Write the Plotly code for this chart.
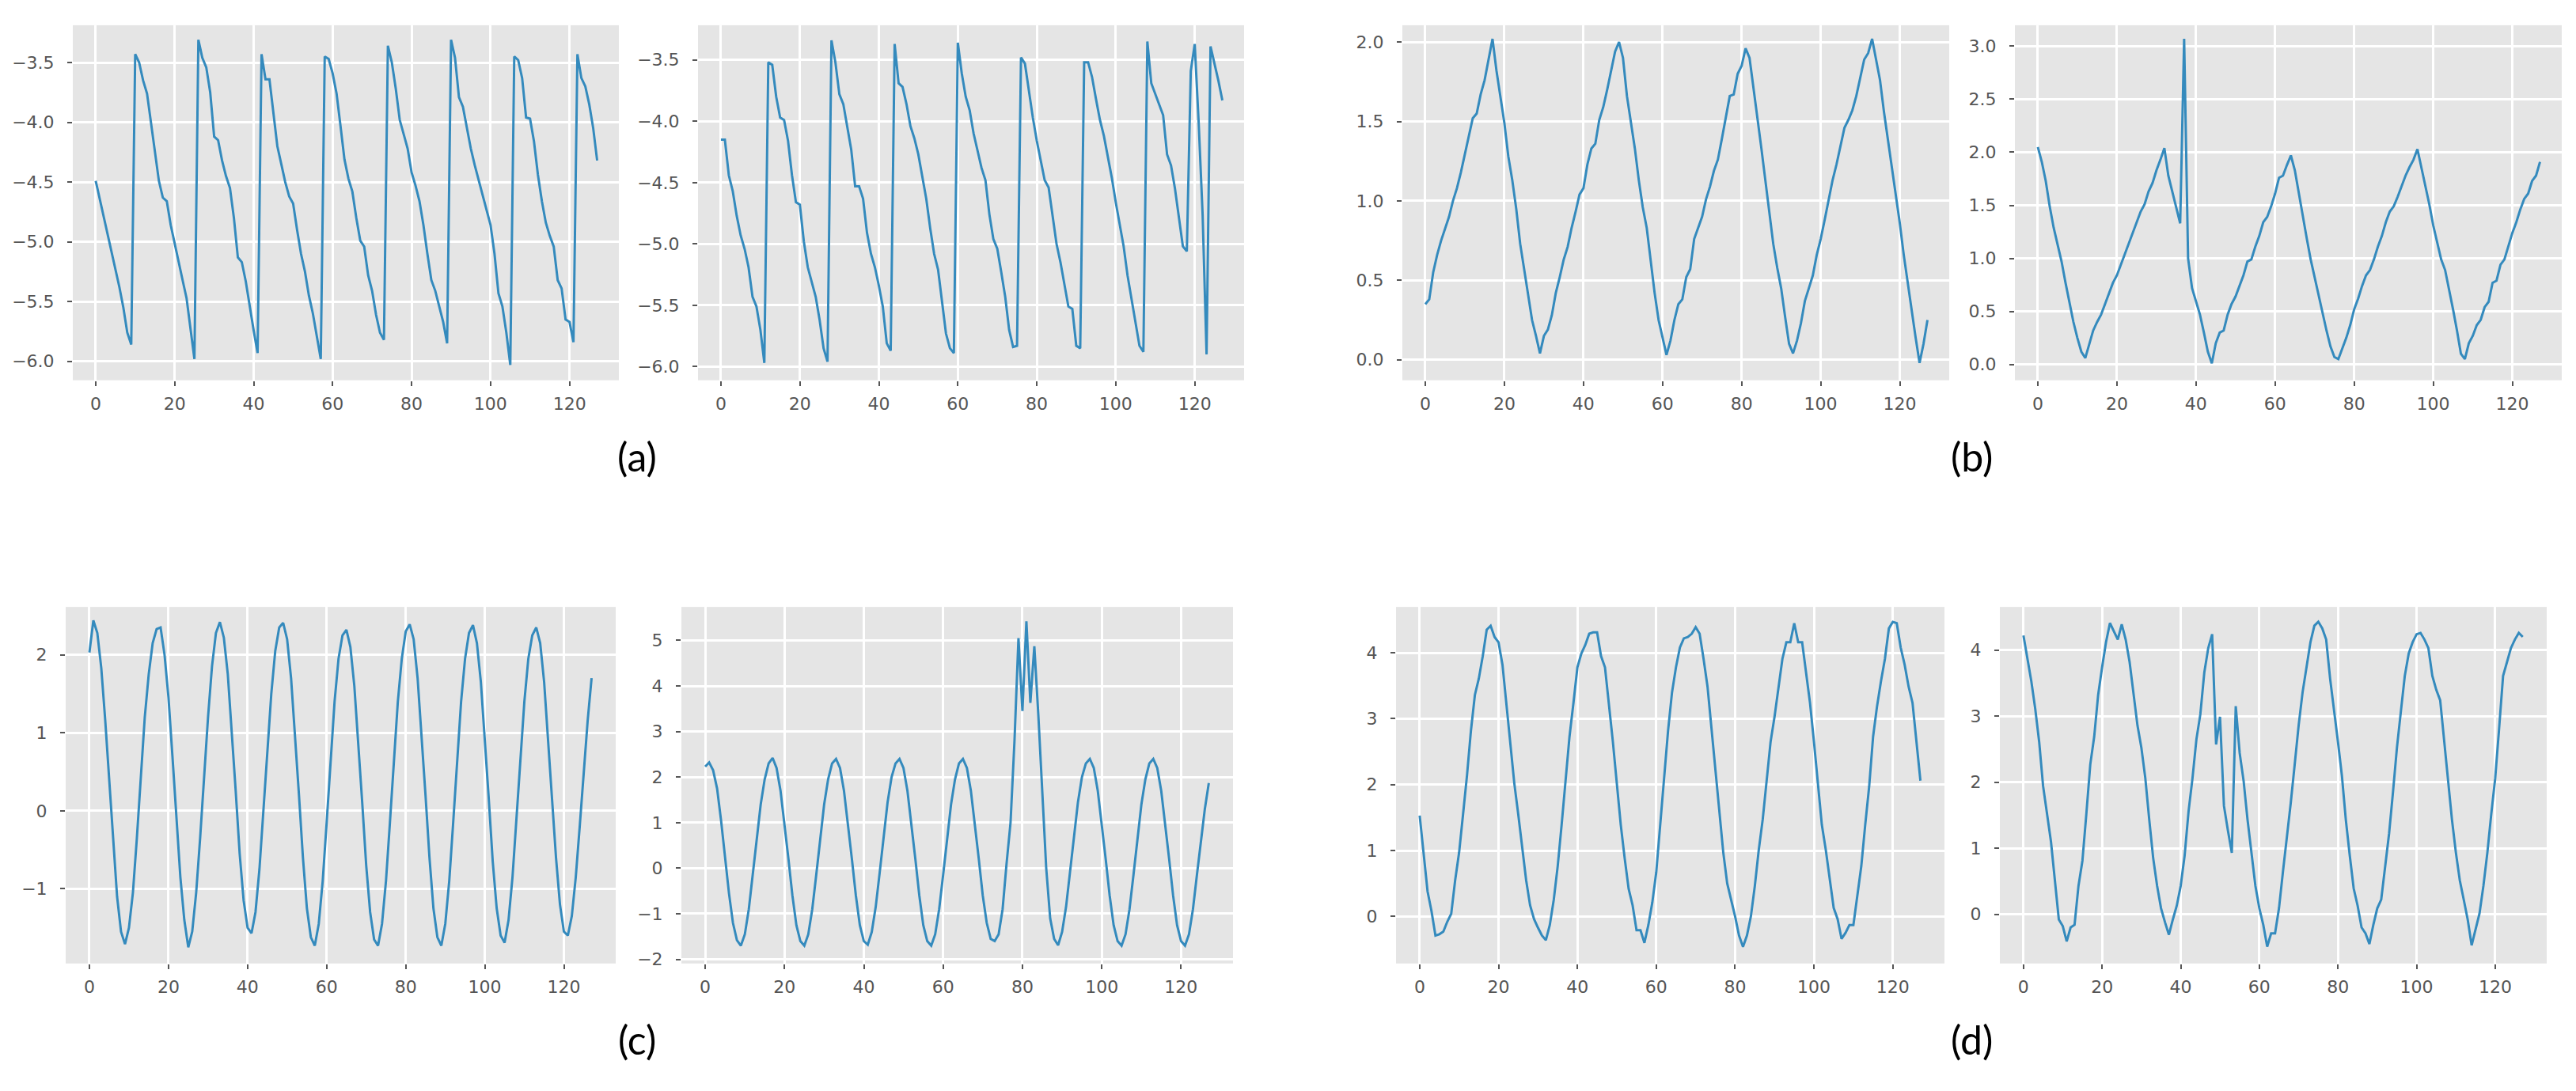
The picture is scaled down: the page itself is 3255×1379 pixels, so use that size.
import plotly.graph_objects as go

# sample index shared by all eight series
x = list(range(128))

# (a) sawtooth signals
a_left = [
    -4.49, -4.64, -4.79, -4.94, -5.08, -5.22, -5.38, -5.55, -5.76, -5.86,
    -3.43, -3.50, -3.65, -3.76, -4.01, -4.27, -4.49, -4.63, -4.66, -4.86, -5.02, -5.17, -5.32, -5.47, -5.72, -5.98,
    -3.31, -3.46, -3.54, -3.75, -4.12, -4.15, -4.32, -4.45, -4.55, -4.80, -5.13, -5.17, -5.33, -5.55, -5.74, -5.93,
    -3.43, -3.64, -3.64, -3.92, -4.20, -4.35, -4.50, -4.62, -4.68, -4.90, -5.10, -5.25, -5.45, -5.60, -5.78, -5.98,
    -3.45, -3.47, -3.59, -3.76, -4.03, -4.31, -4.47, -4.58, -4.80, -4.99, -5.04, -5.28, -5.41, -5.61, -5.76, -5.82,
    -3.36, -3.50, -3.72, -3.98, -4.10, -4.22, -4.42, -4.53, -4.66, -4.86, -5.10, -5.32, -5.41, -5.54, -5.67, -5.85,
    -3.31, -3.46, -3.79, -3.87, -4.05, -4.22, -4.36, -4.49, -4.60, -4.73, -4.86, -5.10, -5.43, -5.54, -5.76, -6.03,
    -3.45, -3.48, -3.63, -3.96, -3.97, -4.16, -4.44, -4.66, -4.84, -4.95, -5.04, -5.32, -5.39, -5.65, -5.67, -5.84,
    -3.43, -3.63, -3.70, -3.85, -4.05, -4.32,
]
a_right = [
    -4.15, -4.15, -4.44, -4.57, -4.77, -4.93, -5.04, -5.19, -5.43, -5.51, -5.70, -5.97,
    -3.52, -3.54, -3.80, -3.97, -3.99, -4.16, -4.44, -4.66, -4.68, -4.98, -5.19, -5.32, -5.43, -5.62, -5.85, -5.96,
    -3.34, -3.52, -3.78, -3.86, -4.06, -4.23, -4.53, -4.53, -4.63, -4.91, -5.08, -5.19, -5.34, -5.51, -5.81, -5.87,
    -3.37, -3.69, -3.72, -3.86, -4.04, -4.14, -4.27, -4.46, -4.63, -4.87, -5.08, -5.21, -5.47, -5.73, -5.85, -5.89,
    -3.36, -3.61, -3.80, -3.91, -4.10, -4.25, -4.38, -4.48, -4.76, -4.96, -5.04, -5.23, -5.43, -5.70, -5.84, -5.83,
    -3.48, -3.53, -3.76, -3.97, -4.16, -4.31, -4.48, -4.54, -4.78, -5.00, -5.15, -5.34, -5.51, -5.53, -5.83, -5.85,
    -3.52, -3.52, -3.64, -3.82, -3.99, -4.12, -4.29, -4.46, -4.66, -4.85, -5.02, -5.26, -5.45, -5.62, -5.83, -5.88,
    -3.35, -3.69, -3.78, -3.86, -3.95, -4.27, -4.36, -4.55, -4.78, -5.02, -5.06, -3.59, -3.37, -4.01, -4.76, -5.90,
    -3.39, -3.52, -3.67, -3.83,
]

# (b) triangle signals
b_left = [
    0.35, 0.38, 0.55, 0.66, 0.75, 0.83, 0.90, 1.00, 1.08, 1.18,
    1.29, 1.41, 1.52, 1.55, 1.67, 1.76, 1.89, 2.02, 1.82, 1.66,
    1.49, 1.28, 1.13, 0.95, 0.73, 0.57, 0.40, 0.25, 0.15, 0.04,
    0.15, 0.19, 0.28, 0.42, 0.52, 0.63, 0.71, 0.83, 0.93, 1.04,
    1.08, 1.23, 1.33, 1.36, 1.51, 1.59, 1.70, 1.82, 1.94, 2.00,
    1.90, 1.66, 1.49, 1.33, 1.13, 0.96, 0.83, 0.63, 0.42, 0.25,
    0.14, 0.03, 0.12, 0.25, 0.35, 0.38, 0.52, 0.57, 0.76, 0.83,
    0.90, 1.01, 1.09, 1.19, 1.26, 1.39, 1.52, 1.66, 1.67, 1.80,
    1.85, 1.96, 1.90, 1.72, 1.52, 1.33, 1.13, 0.96, 0.73, 0.58,
    0.45, 0.27, 0.10, 0.04, 0.12, 0.23, 0.37, 0.45, 0.53, 0.66,
    0.76, 0.88, 1.01, 1.13, 1.23, 1.34, 1.46, 1.51, 1.57, 1.66,
    1.77, 1.89, 1.93, 2.02, 1.89, 1.76, 1.56, 1.39, 1.21, 1.03,
    0.86, 0.66, 0.48, 0.32, 0.14, -0.02, 0.10, 0.25,
]
b_right = [
    2.05, 1.91, 1.73, 1.49, 1.29, 1.14, 0.97, 0.77, 0.57, 0.40,
    0.25, 0.12, 0.06, 0.20, 0.32, 0.40, 0.47, 0.57, 0.67, 0.77,
    0.84, 0.94, 1.04, 1.14, 1.24, 1.34, 1.44, 1.51, 1.63, 1.71,
    1.83, 1.93, 2.04, 1.78, 1.63, 1.46, 1.33, 3.07, 1.00, 0.72,
    0.59, 0.47, 0.30, 0.12, 0.01, 0.20, 0.30, 0.32, 0.47, 0.57,
    0.64, 0.74, 0.84, 0.97, 0.99, 1.11, 1.21, 1.34, 1.39, 1.49,
    1.61, 1.76, 1.78, 1.88, 1.97, 1.83, 1.61, 1.39, 1.19, 0.99,
    0.82, 0.64, 0.47, 0.32, 0.17, 0.07, 0.05, 0.15, 0.25, 0.37,
    0.52, 0.62, 0.74, 0.84, 0.89, 0.99, 1.11, 1.21, 1.34, 1.44,
    1.49, 1.58, 1.68, 1.78, 1.86, 1.93, 2.03, 1.86, 1.68, 1.51,
    1.31, 1.14, 0.99, 0.89, 0.69, 0.52, 0.32, 0.10, 0.05, 0.20,
    0.27, 0.37, 0.42, 0.54, 0.59, 0.77, 0.79, 0.94, 0.99, 1.11,
    1.24, 1.34, 1.46, 1.56, 1.61, 1.73, 1.78, 1.91,
]

# (c) fast sine-like signals
c_left = [
    2.03, 2.44, 2.28, 1.83, 1.16, 0.37, -0.43, -1.10, -1.55, -1.71,
    -1.50, -1.05, -0.35, 0.45, 1.20, 1.75, 2.15, 2.33, 2.35, 2.00,
    1.45, 0.70, -0.10, -0.85, -1.40, -1.75, -1.55, -1.05, -0.35, 0.45,
    1.20, 1.85, 2.28, 2.42, 2.22, 1.75, 1.05, 0.25, -0.55, -1.15,
    -1.50, -1.57, -1.30, -0.75, 0.00, 0.80, 1.50, 2.05, 2.35, 2.41,
    2.20, 1.70, 1.00, 0.20, -0.60, -1.25, -1.62, -1.73, -1.45, -0.90,
    -0.15, 0.65, 1.40, 1.95, 2.25, 2.32, 2.10, 1.60, 0.90, 0.10,
    -0.70, -1.30, -1.65, -1.73, -1.45, -0.90, -0.15, 0.65, 1.40, 1.95,
    2.30, 2.39, 2.20, 1.70, 1.00, 0.20, -0.60, -1.25, -1.62, -1.73,
    -1.45, -0.90, -0.15, 0.65, 1.40, 1.95, 2.28, 2.38, 2.15, 1.65,
    0.95, 0.15, -0.65, -1.25, -1.60, -1.69, -1.40, -0.85, -0.10, 0.70,
    1.40, 1.95, 2.25, 2.35, 2.15, 1.65, 0.95, 0.15, -0.60, -1.20,
    -1.55, -1.60, -1.35, -0.85, -0.20, 0.50, 1.15, 1.70,
]
c_right = [
    2.23, 2.32, 2.15, 1.75, 1.05, 0.25, -0.55, -1.20, -1.58, -1.70,
    -1.45, -0.90, -0.15, 0.65, 1.40, 1.95, 2.30, 2.42, 2.20, 1.70,
    1.00, 0.20, -0.60, -1.25, -1.60, -1.70, -1.45, -0.90, -0.15, 0.65,
    1.40, 1.95, 2.30, 2.40, 2.20, 1.70, 1.00, 0.20, -0.60, -1.25,
    -1.60, -1.68, -1.40, -0.85, -0.10, 0.70, 1.45, 2.00, 2.30, 2.40,
    2.20, 1.70, 1.00, 0.20, -0.60, -1.25, -1.60, -1.70, -1.45, -0.90,
    -0.15, 0.65, 1.40, 1.95, 2.30, 2.40, 2.20, 1.70, 1.00, 0.20,
    -0.60, -1.20, -1.55, -1.60, -1.45, -0.90, 0.10, 1.00, 2.80, 5.05,
    3.45, 5.42, 3.63, 4.87, 3.38, 1.56, 0.00, -1.10, -1.55, -1.69,
    -1.40, -0.85, -0.10, 0.70, 1.45, 2.00, 2.30, 2.40, 2.20, 1.70,
    1.00, 0.20, -0.60, -1.25, -1.60, -1.70, -1.45, -0.90, -0.15, 0.65,
    1.40, 1.95, 2.30, 2.40, 2.20, 1.70, 1.00, 0.20, -0.60, -1.25,
    -1.60, -1.70, -1.45, -0.90, -0.15, 0.60, 1.30, 1.87,
]

# (d) slow sine-like signals
d_left = [
    1.53, 0.97, 0.38, 0.08, -0.29, -0.27, -0.23, -0.08, 0.04, 0.55,
    0.97, 1.55, 2.14, 2.82, 3.36, 3.61, 3.95, 4.35, 4.41, 4.24,
    4.16, 3.82, 3.24, 2.65, 2.02, 1.55, 1.05, 0.55, 0.17, -0.04,
    -0.17, -0.29, -0.36, -0.13, 0.25, 0.76, 1.39, 2.02, 2.73, 3.24,
    3.78, 3.99, 4.12, 4.29, 4.31, 4.31, 3.95, 3.78, 3.24, 2.65,
    2.02, 1.39, 0.88, 0.42, 0.17, -0.21, -0.21, -0.40, -0.13, 0.21,
    0.67, 1.39, 2.10, 2.82, 3.40, 3.78, 4.08, 4.22, 4.24, 4.29,
    4.39, 4.29, 3.91, 3.49, 2.86, 2.23, 1.51, 0.97, 0.50, 0.25,
    0.00, -0.29, -0.46, -0.29, 0.00, 0.46, 1.01, 1.47, 2.10, 2.65,
    3.03, 3.49, 3.91, 4.16, 4.16, 4.45, 4.16, 4.16, 3.70, 3.24,
    2.65, 2.02, 1.39, 1.01, 0.55, 0.13, -0.04, -0.34, -0.25, -0.13,
    -0.13, 0.34, 0.76, 1.39, 1.97, 2.73, 3.19, 3.57, 3.91, 4.37,
    4.47, 4.45, 4.08, 3.82, 3.49, 3.24, 2.65, 2.06,
]
d_right = [
    4.22, 3.87, 3.53, 3.11, 2.61, 1.94, 1.52, 1.10, 0.51, -0.08,
    -0.18, -0.41, -0.20, -0.16, 0.43, 0.81, 1.52, 2.27, 2.69, 3.32,
    3.74, 4.12, 4.41, 4.29, 4.16, 4.39, 4.16, 3.82, 3.32, 2.86,
    2.52, 2.06, 1.43, 0.85, 0.43, 0.09, -0.12, -0.31, -0.08, 0.13,
    0.43, 0.89, 1.56, 2.06, 2.65, 3.03, 3.66, 4.03, 4.24, 2.57,
    2.99, 1.64, 1.27, 0.93, 3.15, 2.44, 2.02, 1.43, 0.93, 0.43,
    0.09, -0.16, -0.49, -0.29, -0.29, 0.09, 0.64, 1.14, 1.69, 2.27,
    2.86, 3.36, 3.74, 4.12, 4.37, 4.43, 4.33, 4.16, 3.57, 3.11,
    2.61, 2.10, 1.43, 0.89, 0.39, 0.13, -0.20, -0.29, -0.45, -0.16,
    0.09, 0.22, 0.76, 1.22, 1.85, 2.52, 3.07, 3.61, 3.95, 4.12,
    4.24, 4.26, 4.16, 4.03, 3.61, 3.40, 3.24, 2.61, 2.02, 1.43,
    0.93, 0.51, 0.22, -0.08, -0.47, -0.24, 0.01, 0.43, 0.93, 1.52,
    2.06, 2.82, 3.61, 3.82, 4.03, 4.16, 4.26, 4.20,
]

panel_labels = ["(a)", "(b)", "(c)", "(d)"]

W, H = 3255, 1379

# plot boxes in pixels: (left, right, top, bottom), x range, y range, y tick step, y tick format
panels = [
    (a_left,  (84, 774, 24, 475),    [-5.8, 132.5], [-6.158, -3.188], 0.5, ".1f"),
    (a_right, (874, 1564, 24, 475),  [-5.8, 132.5], [-6.111, -3.217], 0.5, ".1f"),
    (b_left,  (1764, 2455, 24, 475), [-5.8, 132.5], [-0.129, 2.106], 0.5, ".1f"),
    (b_right, (2538, 3229, 24, 475), [-5.8, 132.5], [-0.149, 3.198], 0.5, ".1f"),
    (c_left,  (75, 770, 763, 1216),  [-6.0, 133.1], [-1.958, 2.614], 1, "d"),
    (c_right, (853, 1550, 763, 1216), [-6.0, 133.1], [-2.091, 5.735], 1, "d"),
    (d_left,  (1756, 2449, 763, 1216), [-6.0, 133.1], [-0.714, 4.697], 1, "d"),
    (d_right, (2519, 3210, 763, 1216), [-6.0, 133.1], [-0.746, 4.654], 1, "d"),
]

tick_font = dict(family="DejaVu Sans", size=22, color="#555555")

fig = go.Figure()
layout = {}
for i, (y, box, xr, yr, dy, fmt) in enumerate(panels, start=1):
    left, right, top, bottom = box
    sfx = "" if i == 1 else str(i)
    fig.add_trace(go.Scatter(x=x, y=y, mode="lines",
                             line=dict(color="#348ABD", width=3),
                             xaxis="x" + sfx, yaxis="y" + sfx, showlegend=False))
    layout["xaxis" + sfx] = dict(
        domain=[left / W, right / W], anchor="y" + sfx, range=xr,
        tick0=0, dtick=20, showgrid=True, gridcolor="white", gridwidth=2.5,
        zeroline=False, showline=False, ticks="outside", ticklen=6, tickwidth=2,
        tickcolor="#555555", tickfont=tick_font, ticklabelstandoff=4)
    layout["yaxis" + sfx] = dict(
        domain=[1 - bottom / H, 1 - top / H], anchor="x" + sfx, range=yr,
        tick0=0, dtick=dy, tickformat=fmt, showgrid=True, gridcolor="white",
        gridwidth=2.5, zeroline=False, showline=False, ticks="outside",
        ticklen=6, tickwidth=2, tickcolor="#555555", tickfont=tick_font,
        ticklabelstandoff=12)

label_pos = [(797, 572), (2483, 572), (797, 1313), (2483, 1313)]
annotations = []
for text, (px, py) in zip(panel_labels, label_pos):
    annotations.append(dict(text=text, x=px / W, y=1 - py / H, xref="paper", yref="paper",
                            showarrow=False, xanchor="center", yanchor="middle",
                            font=dict(family="Lato", size=50, color="black")))

fig.update_layout(**layout)
fig.update_layout(width=W, height=H, margin=dict(l=0, r=0, t=0, b=0),
                  paper_bgcolor="white", plot_bgcolor="#E5E5E5",
                  annotations=annotations)
fig.write_html("out.html")
